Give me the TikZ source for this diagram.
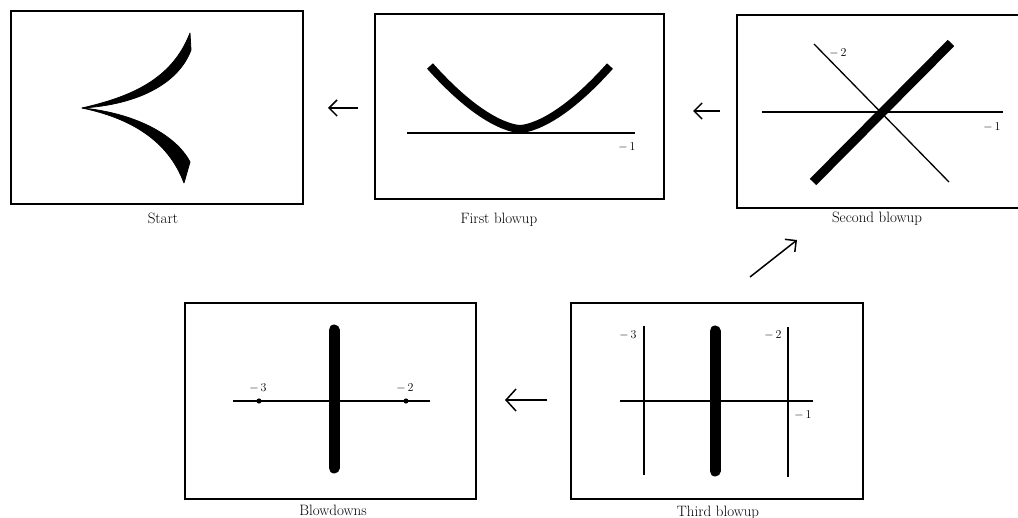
\documentclass[tikz,border=0pt]{standalone}
\usetikzlibrary{arrows.meta}
\begin{document}
\begin{tikzpicture}[x=1pt,y=-1pt,
  panel/.style={draw,line width=1.4pt,inner sep=0pt},
  captext/.style={font=\fontsize{15}{17}\selectfont,inner sep=0pt},
  numtext/.style={font=\fontsize{13}{15}\selectfont,inner sep=0pt},
  thinline/.style={line width=1.3pt},
  mapto/.style={line width=1.5pt,-{Straight Barb[length=8pt,width=16pt,line width=1.5pt]}}]
\useasboundingbox (0,0) rectangle (1018,518);
\clip (0,0) rectangle (1018,518);
% panels
\node[panel,minimum width=292pt,minimum height=193pt] (p1) at (157,107.5) {};
\node[panel,minimum width=289pt,minimum height=185pt] (p2) at (519.5,106.5) {};
\node[panel,minimum width=283pt,minimum height=193pt] (p3) at (878.5,111.5) {};
\node[panel,minimum width=291pt,minimum height=196pt] (p4) at (330.5,401) {};
\node[panel,minimum width=292pt,minimum height=196pt] (p5) at (717,401) {};
% captions
\node[captext] (c1) at (163,218) {Start};
\node[captext] (c2) at (499,220) {First blowup};
\node[captext] (c3) at (877,219) {Second blowup};
\node[captext] (c4) at (333,510) {Blowdowns};
\node[captext] (c5) at (718,513) {Third blowup};
% Start: cusp
\filldraw[line width=0.8pt,line join=round]
  (82,108) .. controls (130,97) and (172,80) .. (190,33)
  -- (191,50) .. controls (178,85) and (135,105) .. (82,108) -- cycle;
\filldraw[line width=0.8pt,line join=round]
  (82,108) .. controls (130,118) and (168,140) .. (184,183)
  -- (190,162) .. controls (176,135) and (135,113) .. (82,108) -- cycle;
% First blowup
\coordinate (e1a) at (407,133);
\coordinate (e1b) at (635,133);
\draw[thinline] (e1a) -- (e1b);
\draw[line width=8pt] plot[domain=-1:1,samples=60] ({520+90*\x},{129-63*abs(\x)^1.6});
\node[numtext] (n21) at (627,147) {$-\,1$};
% Second blowup
\coordinate (h3a) at (762,112);
\coordinate (h3b) at (1003,112);
\coordinate (d3a) at (814,44);
\coordinate (d3b) at (949,182);
\coordinate (s3a) at (813,182);
\coordinate (s3b) at (951,43);
\draw[thinline] (h3a) -- (h3b);
\draw[thinline] (d3a) -- (d3b);
\draw[line width=9pt] (s3a) -- (s3b);
\node[numtext] (n32) at (838,53) {$-\,2$};
\node[numtext] (n31) at (992,127) {$-\,1$};
% Blowdowns
\coordinate (h4a) at (233,401);
\coordinate (h4b) at (430,401);
\coordinate (v4a) at (334,330);
\coordinate (v4b) at (334,468);
\draw[thinline] (h4a) -- (h4b);
\fill (259,401) circle (2.6pt);
\fill (406,401) circle (2.6pt);
\draw[line width=11pt,line cap=round] (v4a) -- (v4b);
\node[numtext] (n43) at (258,388) {$-\,3$};
\node[numtext] (n42) at (405,388) {$-\,2$};
% Third blowup
\coordinate (h5a) at (620,401);
\coordinate (h5b) at (813,401);
\coordinate (l5a) at (644,326);
\coordinate (l5b) at (644,475);
\coordinate (r5a) at (788,327);
\coordinate (r5b) at (788,477);
\coordinate (t5a) at (715,331);
\coordinate (t5b) at (715,471);
\draw[thinline] (h5a) -- (h5b);
\draw[thinline] (l5a) -- (l5b);
\draw[thinline] (r5a) -- (r5b);
\draw[line width=11pt,line cap=round] (t5a) -- (t5b);
\node[numtext] (n53) at (628,335) {$-\,3$};
\node[numtext] (n52) at (773,335) {$-\,2$};
\node[numtext] (n51) at (803,415) {$-\,1$};
% maps
\coordinate (a1s) at (358,108); \coordinate (a1e) at (328,108);
\coordinate (a2s) at (720,111); \coordinate (a2e) at (693,111);
\coordinate (a3s) at (547,400); \coordinate (a3e) at (505,400);
\coordinate (a4s) at (750,277); \coordinate (a4e) at (797,240);
\draw[mapto] (a1s) -- (a1e);
\draw[mapto] (a2s) -- (a2e);
\draw[line width=1.5pt,-{Straight Barb[length=10pt,width=22pt,line width=1.5pt]}] (a3s) -- (a3e);
\draw[mapto] (a4s) -- (a4e);
\end{tikzpicture}
\end{document}
